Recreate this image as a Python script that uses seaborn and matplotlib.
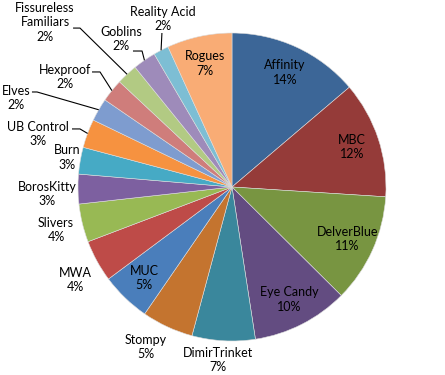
import matplotlib
matplotlib.use("Agg")
import matplotlib.pyplot as plt
import seaborn as sns
import numpy as np

# share of decks, clockwise from 12 o'clock
decks = ["Affinity", "MBC", "DelverBlue", "Eye Candy", "DimirTrinket", "Stompy",
         "MUC", "MWA", "Slivers", "BorosKitty", "Burn", "UB Control", "Elves",
         "Hexproof", "Fissureless\nFamiliars", "Goblins", "Reality Acid", "Rogues"]
shares = [13.75, 12.2, 11.4, 10.1, 6.6, 5.4, 5.2, 4.4, 4.0, 3.1, 2.8, 3.0,
          2.4, 2.4, 2.2, 2.4, 1.6, 6.8]

colors = ["#3C6697", "#953B39", "#789541", "#634C81", "#3A879C", "#C4742F",
          "#4A7EBB", "#BE4B48", "#98B954", "#7D60A0", "#46AAC5", "#F69240",
          "#7E9CCF", "#CF7D7B", "#B2CA83", "#9E8BBA", "#7DBED4", "#F9AC75"]

# labels drawn inside the pie
inside = ["Affinity", "MBC", "DelverBlue", "Eye Candy", "MUC", "Rogues"]
# outside labels (radius units, pie centre = 0,0)
label_xy = {
    "DimirTrinket": (-0.091, -1.123),
    "Stompy": (-0.558, -1.039),
    "MWA": (-1.019, -0.604),
    "Slivers": (-1.143, -0.279),
    "BorosKitty": (-1.201, -0.045),
    "Burn": (-1.07, 0.19),
    "UB Control": (-1.26, 0.345),
    "Elves": (-1.40, 0.578),
    "Hexproof": (-1.084, 0.714),
    "Fissureless\nFamiliars": (-1.214, 1.071),
    "Goblins": (-0.72, 0.962),
    "Reality Acid": (-0.45, 1.09),
}
# leader lines: stub start and elbow, the line then runs to the slice edge
leaders = {
    "UB Control": ((-1.039, 0.377), (-0.987, 0.377)),
    "Elves": ((-1.299, 0.617), (-1.266, 0.617)),
    "Hexproof": ((-0.909, 0.747), (-0.857, 0.747)),
    "Fissureless\nFamiliars": ((-1.032, 1.032), (-0.987, 1.032)),
    "Goblins": ((-0.643, 0.883), (-0.584, 0.883)),
    "Reality Acid": ((-0.455, 1.0), (-0.455, 1.0)),
}

sns.set_style("white")
plt.rcParams["font.family"] = ["Lato", "DejaVu Sans"]

fig = plt.figure(figsize=(4.45, 3.75), dpi=100)
ax = fig.add_axes([0, 0, 1, 1])

wedges, _ = ax.pie(shares, colors=colors, startangle=90, counterclock=False,
                   radius=1, wedgeprops=dict(edgecolor="#dddddd", linewidth=0.4))

total = sum(shares)
cum = np.cumsum([0] + shares[:-1])
for name, v, c0 in zip(decks, shares, cum):
    mid = np.deg2rad((c0 + v / 2) / total * 360)
    txt = f"{name}\n{round(v / total * 100)}%"
    if name in inside:
        x, y = 0.82 * np.sin(mid), 0.82 * np.cos(mid)
    else:
        x, y = label_xy[name]
    ax.text(x, y, txt, ha="center", va="center", fontsize=9,
            color="black", linespacing=1.25)
    if name in leaders:
        (sx, sy), (ex, ey) = leaders[name]
        px, py = np.sin(mid), np.cos(mid)
        ax.plot([sx, ex, px], [sy, ey, py], color="black", lw=0.8,
                solid_capstyle="butt")

ax.set_xlim(-232 / 154, (445 - 232) / 154)
ax.set_ylim(-(375 - 187) / 154, 187 / 154)
ax.set_aspect("equal")
ax.axis("off")

fig.savefig("out.png", dpi=100)
